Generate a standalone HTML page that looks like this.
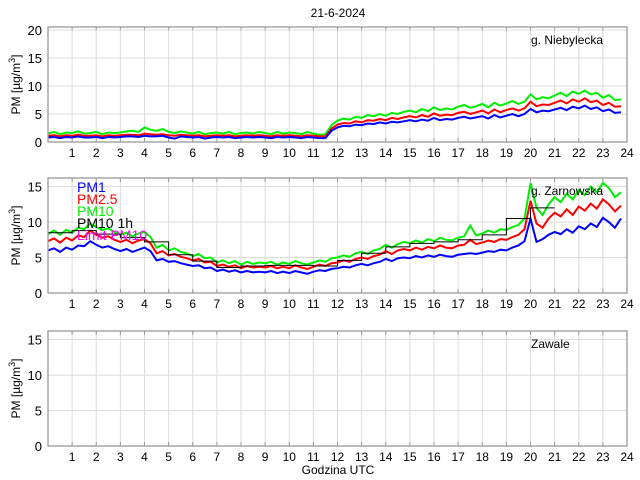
<!DOCTYPE html>
<html><head><meta charset="utf-8">
<style>
body{margin:0;background:#fff;}
svg{display:block;font-family:"Liberation Sans",sans-serif;}
</style></head>
<body>
<svg id="chart" width="640" height="480" xmlns="http://www.w3.org/2000/svg">
<text x="338" y="17" font-size="12" text-anchor="middle">21-6-2024</text>
<text x="338" y="474" font-size="12" text-anchor="middle">Godzina UTC</text>
</svg>
<script>
const hourTicks=[1,2,3,4,5,6,7,8,9,10,11,12,13,14,15,16,17,18,19,20,21,22,23,24];
const step=0.25;
const p1_pm10=[1.5,1.8,1.4,1.7,1.6,1.9,1.5,1.6,1.8,1.4,1.7,1.6,1.7,1.9,2.0,1.8,2.6,2.2,2.0,2.3,1.8,1.6,1.9,1.7,1.5,1.8,1.4,1.6,1.7,1.5,1.8,1.4,1.6,1.7,1.5,1.8,1.6,1.4,1.8,1.5,1.7,1.6,1.4,1.8,1.5,1.3,1.4,3.0,3.8,4.2,4.0,4.5,4.3,4.8,4.6,5.0,4.7,5.2,5.0,5.4,5.6,5.3,5.9,5.5,6.2,5.7,6.0,5.8,6.3,6.6,6.1,6.4,6.8,6.2,7.0,6.5,6.9,7.3,6.8,7.2,8.5,7.6,8.0,7.8,8.3,8.8,8.2,9.0,8.6,9.2,8.5,8.8,7.9,8.4,7.5,7.6];
const p1_pm25=[1.1,1.2,1.0,1.2,1.1,1.3,1.1,1.1,1.2,1.0,1.2,1.1,1.2,1.3,1.3,1.2,1.5,1.4,1.3,1.4,1.2,1.1,1.3,1.2,1.1,1.2,1.0,1.1,1.2,1.1,1.2,1.0,1.1,1.2,1.1,1.2,1.1,1.0,1.2,1.1,1.2,1.1,1.0,1.2,1.1,1.0,1.0,2.4,3.1,3.4,3.3,3.7,3.5,3.9,3.8,4.1,3.9,4.3,4.1,4.4,4.6,4.4,4.8,4.5,5.1,4.7,4.9,4.8,5.2,5.4,5.0,5.3,5.6,5.1,5.8,5.3,5.7,6.0,5.6,6.0,7.2,6.4,6.7,6.6,7.0,7.4,6.9,7.6,7.2,7.8,7.1,7.4,6.6,7.0,6.3,6.4];
const p1_pm1=[0.8,0.9,0.7,0.9,0.8,1.0,0.8,0.8,0.9,0.7,0.9,0.8,0.9,1.0,1.0,0.9,1.1,1.0,1.0,1.1,0.8,0.6,1.0,0.9,0.8,0.9,0.6,0.8,0.9,0.8,0.9,0.7,0.8,0.9,0.8,0.9,0.8,0.7,0.9,0.8,0.9,0.8,0.7,0.9,0.8,0.7,0.7,2.0,2.6,2.9,2.8,3.1,3.0,3.3,3.2,3.5,3.3,3.6,3.5,3.7,3.9,3.7,4.0,3.8,4.3,3.9,4.1,4.0,4.3,4.5,4.2,4.4,4.6,4.2,4.8,4.4,4.7,5.0,4.6,5.0,5.9,5.3,5.6,5.5,5.8,6.1,5.7,6.3,6.0,6.5,5.9,6.2,5.5,5.8,5.2,5.3];
const p2_pm10=[8.3,8.8,8.2,8.9,8.5,9.2,9.0,9.8,9.3,8.9,9.1,8.6,8.2,8.5,8.0,8.4,8.6,7.9,6.4,6.8,6.0,6.3,5.8,5.6,5.2,5.5,4.9,5.0,4.3,4.6,4.2,4.5,4.0,4.4,4.1,4.3,4.2,4.4,4.0,4.3,4.1,4.5,4.2,4.0,4.3,4.6,4.4,4.9,5.0,5.3,5.1,5.6,5.8,5.5,6.0,6.2,6.8,6.4,6.9,7.2,7.0,7.4,7.1,7.6,7.3,7.8,7.5,7.4,7.8,8.0,9.5,8.1,8.4,8.8,8.5,9.0,8.9,9.3,9.6,10.5,15.5,12.0,11.0,12.5,13.5,12.8,14.0,13.2,14.5,13.8,15.0,14.2,15.5,14.8,13.5,14.2];
const p2_pm25=[7.3,7.7,7.1,7.8,7.4,8.1,7.9,8.8,8.2,7.8,8.0,7.5,7.2,7.5,7.0,7.4,7.6,7.0,5.6,5.9,5.3,5.5,5.1,4.9,4.6,4.8,4.3,4.4,3.8,4.0,3.7,3.9,3.5,3.8,3.6,3.7,3.6,3.8,3.5,3.7,3.5,3.9,3.6,3.4,3.7,4.0,3.8,4.2,4.3,4.6,4.4,4.8,5.0,4.8,5.2,5.4,5.9,5.5,6.0,6.2,6.0,6.4,6.1,6.5,6.3,6.7,6.4,6.3,6.7,6.8,7.5,6.9,7.1,7.4,7.2,7.6,7.5,7.9,8.2,9.0,13.0,9.8,9.2,10.5,11.3,10.8,11.8,11.0,12.2,11.6,12.6,11.9,13.2,12.5,11.5,12.3];
const p2_pm1=[6.0,6.3,5.8,6.4,6.1,6.7,6.6,7.3,6.8,6.4,6.6,6.2,5.9,6.2,5.8,6.1,6.4,5.9,4.6,4.8,4.4,4.5,4.2,4.0,3.8,3.9,3.5,3.6,3.1,3.3,3.0,3.2,2.9,3.1,2.9,3.0,2.9,3.1,2.8,3.0,2.8,3.1,2.9,2.7,3.0,3.2,3.1,3.4,3.5,3.7,3.6,3.9,4.1,3.9,4.2,4.4,4.8,4.5,4.9,5.0,4.9,5.2,5.0,5.3,5.1,5.4,5.2,5.1,5.4,5.5,5.6,5.5,5.7,5.9,5.8,6.1,6.0,6.4,6.7,7.3,10.5,7.2,7.6,8.2,8.6,8.3,9.0,8.5,9.4,9.0,9.8,9.3,10.6,10.0,9.2,10.5];
const p2_pm10h=[8.5,8.8,8.3,7.8,7.2,5.4,4.5,3.6,3.8,3.9,3.9,3.8,4.6,5.6,6.5,7.0,7.2,7.5,8.2,10.5,12.0];

const svg=document.getElementById('chart');
const NS='http://www.w3.org/2000/svg';
const X0=48,X1=627;
function xs(h){return X0+(X1-X0)*h/24;}
function mk(tag,attrs,parent){const e=document.createElementNS(NS,tag);for(const k in attrs)e.setAttribute(k,attrs[k]);(parent||svg).appendChild(e);return e;}

const panels=[
 {name:'panel-niebylecka',top:27,y0:142,ymax:20,yticks:[0,5,10,15,20],label:'g. Niebylecka',series:[[p1_pm10,'#00ee00'],[p1_pm25,'#ff0000'],[p1_pm1,'#0000ff']]},
 {name:'panel-zarnowska',top:178,y0:293,ymax:16,yticks:[0,5,10,15],label:'g. Zarnowska',series:[[p2_pm10,'#00ee00'],[p2_pm25,'#ff0000'],[p2_pm1,'#0000ff']],hourly:p2_pm10h,legend:true},
 {name:'panel-zawale',top:331,y0:446,ymax:16,yticks:[0,5,10,15],label:'Zawale',series:[]}
];
panels.forEach(p=>{
 const g=mk('g',{});
 
 
 const ys=v=>p.y0-(p.y0-p.top-(p.ymax==20?3:1.5))*v/p.ymax;
 hourTicks.forEach(h=>{
  const l=mk('line',{x1:xs(h),x2:xs(h),y1:p.top,y2:p.y0,stroke:'#dcdcdc','stroke-width':1},g);
  
  
  const t=mk('text',{x:xs(h),y:p.y0+15,'font-size':12,'text-anchor':'middle'},g);
  t.textContent=h;
  
  
  mk('line',{x1:xs(h),x2:xs(h),y1:p.y0,y2:p.y0-4,stroke:'#999'},g);
  mk('line',{x1:xs(h),x2:xs(h),y1:p.top,y2:p.top+4,stroke:'#999'},g);
 });
 p.yticks.forEach(v=>{
  if(v>0){const l=mk('line',{x1:X0,x2:X1,y1:ys(v),y2:ys(v),stroke:'#dcdcdc'},g);
  
  }
  const t=mk('text',{x:42,y:ys(v)+5,'font-size':13,'text-anchor':'end'},g);
  t.textContent=v;
  
  
 });
 p.series.forEach(s=>{
  const pts=s[0].map((v,i)=>xs(i*step).toFixed(1)+','+ys(v).toFixed(1)).join(' ');
  const pl=mk('polyline',{points:pts,fill:'none',stroke:s[1],'stroke-width':2},g);
  
  
 });
 if(p.hourly){
  let d='';
  p.hourly.forEach((v,i)=>{d+=(i?'L':'M')+xs(i)+','+ys(v)+'L'+xs(i+1)+','+ys(v);});
  const ph=mk('path',{d:d,fill:'none',stroke:'#000','stroke-width':1},g);
  
  
 }
 mk('rect',{x:X0,y:p.top,width:X1-X0,height:p.y0-p.top,fill:'none',stroke:'#999','stroke-width':1.3},g);
 const lb=mk('text',{x:531,y:p.top+17,'font-size':12},g);
 lb.textContent=p.label;
 
 
 const yt=mk('text',{x:0,y:0,'font-size':12,'text-anchor':'middle',transform:'translate(20,'+((p.top+p.y0)/2)+') rotate(-90)'},g);
 yt.innerHTML='PM [µg/m<tspan dy="-5" font-size="9">3</tspan><tspan dy="5">]</tspan>';
 
 
 if(p.legend){
  [['PM1','#0000ff'],['PM2.5','#ff0000'],['PM10','#00ee00'],['PM10 1h','#000'],['Limit PM10','#ff00ff']].forEach((e,i)=>{
   const t=mk('text',{x:77,y:192+i*12,'font-size':14,fill:e[1]},g);
   t.textContent=e[0];
   
   
  });
 }
});
</script>
</body></html>
